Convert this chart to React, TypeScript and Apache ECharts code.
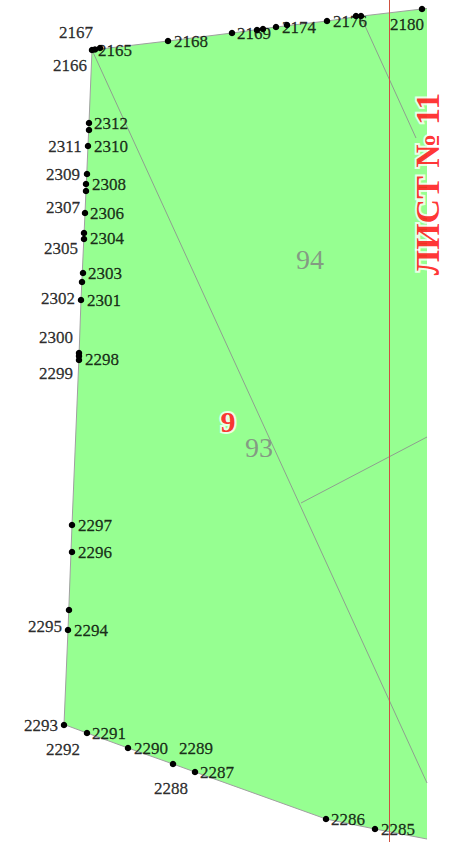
import React, { useEffect, useRef } from "react";
import * as echarts from "echarts";

const parcel: number[][] = [[92, 50], [168, 41], [232, 33], [276, 27], [327, 21], [358, 16.5], [422, 9], [427, 8.5], [427, 839], [375, 829], [326, 819], [195, 772], [173, 764], [128, 748], [87, 733], [64, 724.5], [68, 630], [72, 525], [79, 356], [81, 300], [85, 213], [88, 146], [92, 50]];
const boundary: number[][] = [[427, 8.5], [422, 9], [358, 16.5], [327, 21], [276, 27], [232, 33], [168, 41], [92, 50], [89, 123], [85, 213], [81, 300], [79, 356], [72, 525], [68, 630], [64, 724.5], [87, 733], [128, 748], [173, 764], [195, 772], [326, 819], [375, 829], [427, 839]];
const innerA: number[][] = [[92, 50], [427, 783]];
const innerB: number[][] = [[361, 17], [416, 138]];
const innerC: number[][] = [[301, 503], [427, 437]];
const sheetLine: number[][] = [[389.5, 0], [389.5, 842]];
const turningPoints: number[][] = [[92, 50], [95, 49.5], [100, 48], [168, 41], [232, 33], [257, 30], [263, 29], [276, 27], [287, 25], [327, 21], [356, 16], [361, 16], [422, 9], [89, 123], [89, 130], [88, 146], [87, 174], [86, 184], [86, 191], [85, 213], [84, 233], [84, 239], [83, 273], [82, 282], [81, 300], [79, 353], [79, 356], [79, 360], [72, 525], [72, 552], [69, 610], [68, 630], [64, 725], [87, 733], [128, 748], [173, 764], [195, 772], [326, 819], [375, 829]];
const pointLabels: [number, number, string][] = [[76, 32, "2167"], [115, 50, "2165"], [70, 65, "2166"], [191, 41, "2168"], [254, 33, "2169"], [299, 27, "2174"], [350, 21, "2176"], [407, 24, "2180"], [111, 123, "2312"], [65, 146, "2311"], [111, 146, "2310"], [63, 174, "2309"], [109, 184, "2308"], [63, 207, "2307"], [107, 213, "2306"], [61, 248, "2305"], [107, 238, "2304"], [105, 273, "2303"], [58, 298, "2302"], [104, 300, "2301"], [56, 337, "2300"], [56, 373, "2299"], [102, 359, "2298"], [95, 525, "2297"], [95, 552, "2296"], [45, 626, "2295"], [91, 630, "2294"], [41, 725, "2293"], [63, 749, "2292"], [109, 733, "2291"], [151, 748, "2290"], [196, 748, "2289"], [171, 788, "2288"], [217, 772, "2287"], [348, 819, "2286"], [398, 829, "2285"]];
const areaLabels: [number, number, string][] = [[310, 259, "94"], [259, 447, "93"]];
const blockLabel: [number, number, string] = [228, 421, "9"];
const sheetLabel: [number, number, string] = [427, 184, "ЛИСТ № 11"];

const SERIF = "'Liberation Serif', 'Times New Roman', serif";

function lineSeries(data: number[][], color: string, z: number) {
  return { type: "line", data, symbol: "none", silent: true, z, lineStyle: { color, width: 1 } };
}

function textSeries(data: unknown[], z: number, label: Record<string, unknown>) {
  return {
    type: "scatter", data, symbolSize: 1, itemStyle: { color: "rgba(0,0,0,0)" }, silent: true, z,
    encode: { x: 0, y: 1 },
    dimensions: ["x", "y", { name: "t", type: "ordinal" }],
    labelLayout: { hideOverlap: false },
    label: {
      show: true, position: "inside", align: "center", verticalAlign: "middle",
      fontFamily: SERIF, formatter: (p: any) => p.value[2],
      textBorderWidth: 0, textBorderColor: "transparent", offset: [0, -1], ...label,
    },
  };
}

export default function App() {
  const ref = useRef<HTMLDivElement>(null);
  useEffect(() => {
    document.body.style.margin = "0";
    const chart = echarts.init(ref.current!, null, { renderer: "svg" });
    chart.setOption({
      animation: false,
      backgroundColor: "#ffffff",
      grid: { left: 0, right: 0, top: 0, bottom: 0 },
      xAxis: { type: "value", min: 0, max: 450, show: false },
      yAxis: { type: "value", min: 0, max: 842, inverse: true, show: false },
      series: [
        {
          type: "custom", data: [0], silent: true, z: 1,
          renderItem: (_: unknown, api: any) => ({
            type: "polygon",
            shape: { points: parcel.map((p) => api.coord(p)) },
            style: { fill: "#96ff91", stroke: "none" },
          }),
        },
        lineSeries(boundary, "#a0a0a0", 2),
        lineSeries(innerA, "#8f9f8f", 2),
        lineSeries(innerB, "#8f9f8f", 2),
        lineSeries(innerC, "#8f9f8f", 2),
        lineSeries(sheetLine, "#d05040", 3),
        { type: "scatter", data: turningPoints, symbolSize: 6.5, silent: true, z: 4, itemStyle: { color: "#000000", opacity: 1 } },
        textSeries(pointLabels, 5, { fontSize: 17, color: "#000000", textBorderColor: "#000000", textBorderWidth: 0.3 }),
        textSeries(areaLabels, 5, { fontSize: 28, color: "#808080" }),
        textSeries([blockLabel], 6, { fontSize: 30, fontWeight: "bold", color: "#ff0000", textBorderColor: "#ffffff", textBorderWidth: 4 }),
        textSeries([sheetLabel], 6, { fontSize: 34, fontWeight: "bold", rotate: 90, color: "#ff0000", textBorderColor: "#ffffff", textBorderWidth: 4 }),
      ],
    });
    ref.current!.querySelectorAll("text").forEach((t) => t.style.setProperty("paint-order", "stroke"));
    return () => chart.dispose();
  }, []);
  return <div ref={ref} style={{ width: 450, height: 842 }} />;
}
